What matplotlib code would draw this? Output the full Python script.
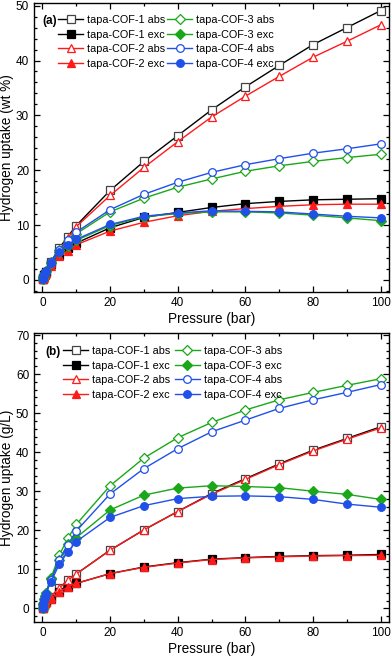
import numpy as np
import matplotlib
matplotlib.use("Agg")
import matplotlib.pyplot as plt
from matplotlib.ticker import MultipleLocator

plt.rcParams["font.family"] = ["Liberation Sans", "DejaVu Sans"]

# pressure points (bar)
pressure = [0.05, 0.25, 0.5, 0.75, 1, 2.5, 5, 7.5, 10,
            20, 30, 40, 50, 60, 70, 80, 90, 100]

# (a) gravimetric uptake, wt %
wt_cof1_abs = [0.1, 0.4, 0.8, 1.1, 1.4, 3.3, 5.8, 7.9, 9.9,
               16.3, 21.6, 26.3, 31.0, 35.2, 39.1, 42.9, 46.0, 49.1]
wt_cof1_exc = [0.1, 0.4, 0.8, 1.1, 1.4, 2.9, 4.6, 5.8, 6.7,
               9.5, 11.4, 12.3, 13.2, 13.9, 14.3, 14.6, 14.7, 14.8]
wt_cof2_abs = [0.1, 0.3, 0.6, 0.9, 1.2, 3.1, 5.5, 7.6, 9.7,
               15.4, 20.5, 25.2, 29.7, 33.5, 37.1, 40.6, 43.5, 46.5]
wt_cof2_exc = [0.1, 0.3, 0.6, 0.9, 1.2, 2.5, 4.3, 5.3, 6.4,
               8.9, 10.5, 11.7, 12.5, 13.0, 13.4, 13.7, 13.8, 13.8]
wt_cof3_abs = [0.1, 0.5, 0.9, 1.3, 1.6, 3.2, 5.4, 7.0, 8.4,
               12.4, 14.9, 16.9, 18.4, 19.8, 20.8, 21.6, 22.3, 22.9]
wt_cof3_exc = [0.1, 0.5, 0.9, 1.3, 1.6, 3.0, 5.0, 6.2, 7.2,
               9.9, 11.5, 12.1, 12.4, 12.4, 12.2, 11.8, 11.3, 10.8]
wt_cof4_abs = [0.1, 0.5, 0.9, 1.3, 1.6, 3.3, 5.5, 7.3, 8.7,
               12.8, 15.6, 17.8, 19.6, 21.0, 22.1, 23.1, 23.9, 24.8]
wt_cof4_exc = [0.1, 0.5, 0.9, 1.3, 1.6, 3.0, 5.1, 6.3, 7.4,
               10.1, 11.6, 12.2, 12.6, 12.5, 12.4, 12.0, 11.6, 11.3]

# (b) volumetric uptake, g/L
gl_cof1_abs = [0.1, 0.5, 0.9, 1.3, 1.6, 3.0, 5.2, 7.2, 8.8,
               14.9, 20.1, 24.8, 29.4, 33.2, 37.0, 40.5, 43.5, 46.5]
gl_cof1_exc = [0.1, 0.5, 0.9, 1.3, 1.6, 2.5, 4.2, 5.5, 6.4,
               8.9, 10.6, 11.7, 12.6, 13.0, 13.3, 13.5, 13.6, 13.8]
gl_cof2_abs = [0.1, 0.5, 0.9, 1.3, 1.6, 3.0, 5.2, 7.2, 8.8,
               14.9, 20.1, 24.8, 29.2, 33.0, 36.8, 40.3, 43.3, 46.2]
gl_cof2_exc = [0.1, 0.5, 0.9, 1.3, 1.6, 2.5, 4.2, 5.5, 6.4,
               8.9, 10.5, 11.6, 12.5, 12.9, 13.2, 13.4, 13.5, 13.6]
gl_cof3_abs = [0.2, 1.2, 2.3, 3.2, 4.0, 7.7, 13.7, 17.9, 21.5,
               31.4, 38.5, 43.7, 47.6, 50.8, 53.4, 55.3, 57.1, 58.8]
gl_cof3_exc = [0.2, 1.2, 2.3, 3.2, 4.0, 7.5, 12.3, 16.5, 18.1,
               25.2, 29.0, 30.8, 31.4, 31.2, 30.9, 30.0, 29.2, 27.9]
gl_cof4_abs = [0.2, 1.1, 2.1, 3.0, 3.8, 7.2, 12.4, 16.3, 19.8,
               29.3, 35.8, 40.9, 45.2, 48.2, 51.2, 53.4, 55.3, 57.3]
gl_cof4_exc = [0.2, 1.1, 2.1, 3.0, 3.8, 6.8, 11.3, 14.5, 17.1,
               23.3, 26.3, 28.1, 28.7, 28.8, 28.6, 27.9, 26.7, 25.9]

labels = ["tapa-COF-1 abs", "tapa-COF-1 exc", "tapa-COF-2 abs", "tapa-COF-2 exc",
          "tapa-COF-3 abs", "tapa-COF-3 exc", "tapa-COF-4 abs", "tapa-COF-4 exc"]

BLACK = "#000000"
RED = "#ff1a1a"
GREEN = "#1aa81a"
BLUE = "#2050e8"
styles = [
    (BLACK, "s", False), (BLACK, "s", True),
    (RED, "^", False), (RED, "^", True),
    (GREEN, "D", False), (GREEN, "D", True),
    (BLUE, "o", False), (BLUE, "o", True),
]


def draw_panel(ax, series, tag, ylabel, ylim, leg_anchor, colspace, tag_x):
    for vals, lab, (col, mk, filled) in zip(series, labels, styles):
        ms = 5.5 if mk != "D" else 4.8
        edge = "#444444" if (col == BLACK and not filled) else col
        ax.plot(pressure, vals, color=col, lw=1.0, marker=mk, ms=ms,
                mfc=col if filled else "white", mec=edge, mew=0.9,
                label=lab)
    ax.set_xlim(-2.5, 102.5)
    ax.set_ylim(*ylim)
    ax.xaxis.set_major_locator(MultipleLocator(20))
    ax.xaxis.set_minor_locator(MultipleLocator(10))
    ax.yaxis.set_major_locator(MultipleLocator(10))
    ax.yaxis.set_minor_locator(MultipleLocator(2))
    ax.tick_params(which="both", direction="in", top=True, right=True,
                   labelsize=8.5, width=0.9)
    ax.tick_params(which="major", length=4)
    ax.tick_params(which="minor", length=2.2)
    for sp in ax.spines.values():
        sp.set_linewidth(1.0)
    ax.set_xlabel("Pressure (bar)", fontsize=9.8, labelpad=2)
    ax.set_ylabel(ylabel, fontsize=9.8, labelpad=1)
    ax.legend(ncol=2, loc="upper left", bbox_to_anchor=leg_anchor,
              frameon=False, fontsize=7.8, handlelength=2.3,
              handletextpad=0.35, columnspacing=colspace, labelspacing=0.42,
              borderpad=0.0, borderaxespad=0)
    ax.text(tag_x, leg_anchor[1] - 0.022, tag, transform=ax.transAxes,
            fontsize=8.5, fontweight="bold", va="center", ha="left")


fig = plt.figure(figsize=(3.92, 6.56), dpi=100)
ax_a = fig.add_axes([0.0867, 0.555, 0.906, 0.4405])
ax_b = fig.add_axes([0.0867, 0.0518, 0.906, 0.4405])

draw_panel(ax_a,
           [wt_cof1_abs, wt_cof1_exc, wt_cof2_abs, wt_cof2_exc,
            wt_cof3_abs, wt_cof3_exc, wt_cof4_abs, wt_cof4_exc],
           "(a)", "Hydrogen uptake (wt %)", (-2.2, 50.5),
           (0.068, 0.958), 0.2, 0.025)
draw_panel(ax_b,
           [gl_cof1_abs, gl_cof1_exc, gl_cof2_abs, gl_cof2_exc,
            gl_cof3_abs, gl_cof3_exc, gl_cof4_abs, gl_cof4_exc],
           "(b)", "Hydrogen uptake (g/L)", (-3.5, 70.5),
           (0.082, 0.955), 0.45, 0.031)

fig.savefig("out.png", dpi=100)
